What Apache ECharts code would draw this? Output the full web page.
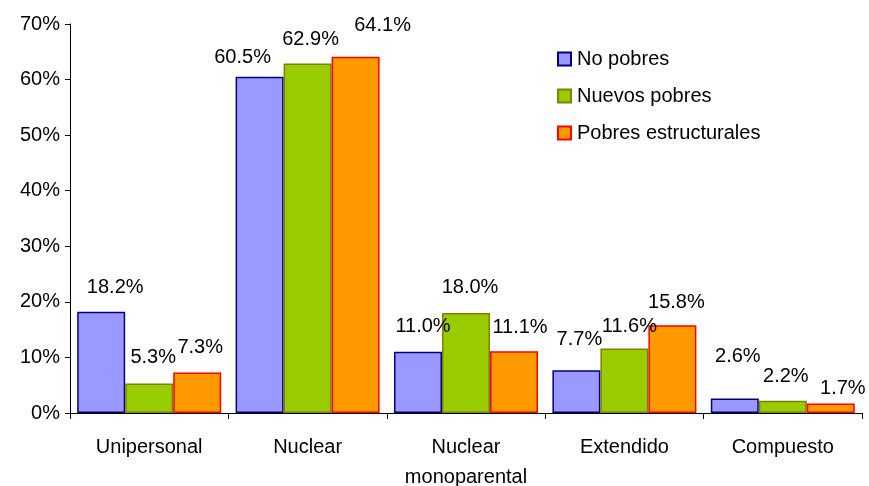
<!DOCTYPE html>
<html>
<head>
<meta charset="utf-8">
<script src="https://cdn.jsdelivr.net/npm/echarts@6/dist/echarts.min.js"></script>
<style>html,body{margin:0;padding:0;background:#fff}#c{width:869px;height:486px}</style>
</head>
<body>
<div id="c"></div>
<script>
var categories = ['Unipersonal', 'Nuclear', 'Nuclear\nmonoparental', 'Extendido', 'Compuesto'];
var seriesNames = ['No pobres', 'Nuevos pobres', 'Pobres estructurales'];
var noPobres = [18.2, 60.5, 11.0, 7.7, 2.6];
var nuevosPobres = [5.3, 62.9, 18.0, 11.6, 2.2];
var pobresEstructurales = [7.3, 64.1, 11.1, 15.8, 1.7];
var yTicks = [0, 10, 20, 30, 40, 50, 60, 70];

// label nudges (styling only) to mimic the original label placement
var labelNudges = [
  [[14, 0], [-17, 5], [5, -1], [3, -7], [3, -18]],
  [[4, -2], [3, 0], [4, -1], [5, 2], [3, 0]],
  [[3, -1], [27, -7], [6, 0], [4, 1], [12, 9]]
];

var fills = ['#9999FF', '#99CC00', '#FF9900'];
var borders = ['#000080', '#808000', '#FF0000'];
var values = [noPobres, nuevosPobres, pobresEstructurales];
var FONT = '"Liberation Sans", Arial, sans-serif';

var series = values.map(function (vals, si) {
  return {
    name: seriesNames[si],
    type: 'bar',
    barWidth: 48,
    barGap: '0%',
    itemStyle: { color: fills[si], borderColor: borders[si], borderWidth: 1.5 },
    data: vals.map(function (v, i) {
      return {
        value: v,
        label: { offset: labelNudges[si][i] }
      };
    }),
    label: {
      show: true,
      position: 'top',
      distance: 14,
      color: '#000',
      fontFamily: FONT,
      fontSize: 20,
      formatter: function (p) { return p.value.toFixed(1) + '%'; }
    }
  };
});

var chart = echarts.init(document.getElementById('c'), null, { renderer: 'canvas' });
chart.setOption({
  animation: false,
  backgroundColor: '#fff',
  grid: { left: 70, right: 7, top: 24, bottom: 73, containLabel: false, outerBoundsMode: 'none' },
  legend: {
    orient: 'vertical',
    left: 552,
    top: 44,
    itemWidth: 13,
    itemHeight: 13,
    itemGap: 17,
    icon: 'rect',
    data: seriesNames,
    textStyle: { color: '#000', fontFamily: FONT, fontSize: 20, padding: [0, 0, 0, 1] }
  },
  xAxis: {
    type: 'category',
    data: categories,
    axisLine: { lineStyle: { color: '#000', width: 1 } },
    axisTick: { show: true, length: 6, lineStyle: { color: '#000' } },
    axisLabel: { color: '#000', fontFamily: FONT, fontSize: 20, margin: 19, lineHeight: 30, interval: 0 }
  },
  yAxis: {
    type: 'value',
    min: yTicks[0],
    max: yTicks[yTicks.length - 1],
    interval: 10,
    splitLine: { show: false },
    axisLine: { show: true, lineStyle: { color: '#000', width: 1 } },
    axisTick: { show: true, length: 5, lineStyle: { color: '#000' } },
    axisLabel: { color: '#000', fontFamily: FONT, fontSize: 20, margin: 10, formatter: '{value}%' }
  },
  series: series
});
</script>
</body>
</html>
